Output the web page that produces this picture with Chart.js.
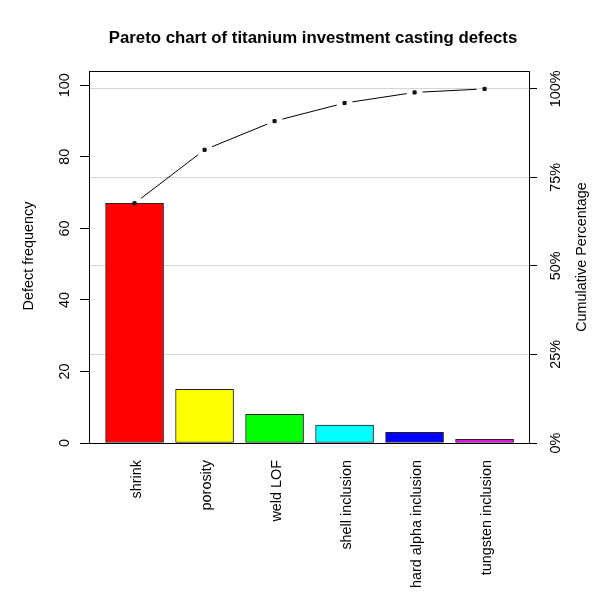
<!DOCTYPE html>
<html>
<head>
<meta charset="utf-8">
<title>Pareto chart</title>
<script src="https://cdn.jsdelivr.net/npm/chart.js@4.4.1/dist/chart.umd.min.js"></script>
<style>
  html, body { margin: 0; padding: 0; background: #fff; }
  #wrap { width: 600px; height: 609px; }
</style>
</head>
<body>
<div id="wrap"><canvas id="chart" width="600" height="609"></canvas></div>
<script>
// data
var categories = ['shrink', 'porosity', 'weld LOF', 'shell inclusion', 'hard alpha inclusion', 'tungsten inclusion'];
var frequencies = [67, 15, 8, 5, 3, 1];
var cumulativePct = [67.7, 82.8, 90.9, 96.0, 99.0, 100];
var barColors = ['#ff0000', '#ffff00', '#00ff00', '#00ffff', '#0000ff', '#ff00ff'];
var freqTicks = [0, 20, 40, 60, 80, 100];
var pctTicks = [0, 25, 50, 75, 100];
var pctTickLabels = ['0%', '25%', '50%', '75%', '100%'];

var FONT = '"Liberation Sans", Arial, Helvetica, sans-serif';
var TOTAL = 99;          // 100% on the right axis == 99 defects on the left
var FREQ_MAX = 104;

var positions = categories.map(function(c, i) { return i; });

function fixTicks(values) {
  return function(scale) {
    scale.ticks = values.map(function(v) { return { value: v }; });
  };
}

// draws texts rotated like base R, the box and the "type b" line
var rDecorations = {
  id: 'rDecorations',
  afterDatasetsDraw: function(chart) {
    var ctx = chart.ctx;
    var area = chart.chartArea;
    var yl = chart.scales.y;
    var yr = chart.scales.y2;
    var xs = chart.scales.x;

    // line between cumulative points, with gaps around the points
    var gap = 8;
    ctx.save();
    ctx.strokeStyle = '#000';
    ctx.lineWidth = 1;
    for (var i = 0; i < cumulativePct.length - 1; i++) {
      var x0 = xs.getPixelForValue(positions[i]), y0 = yr.getPixelForValue(cumulativePct[i]);
      var x1 = xs.getPixelForValue(positions[i + 1]), y1 = yr.getPixelForValue(cumulativePct[i + 1]);
      var dx = x1 - x0, dy = y1 - y0;
      var len = Math.sqrt(dx * dx + dy * dy);
      if (len <= 2 * gap) continue;
      var ux = dx / len, uy = dy / len;
      ctx.beginPath();
      ctx.moveTo(x0 + ux * gap, y0 + uy * gap);
      ctx.lineTo(x1 - ux * gap, y1 - uy * gap);
      ctx.stroke();
    }

    // box
    ctx.strokeStyle = '#000';
    ctx.strokeRect(Math.round(area.left) + 0.5, Math.round(area.top) + 0.5,
      Math.round(area.right - area.left), Math.round(area.bottom - area.top));

    // title
    ctx.fillStyle = '#000';
    ctx.font = 'bold 16.8px ' + FONT;
    ctx.textAlign = 'center';
    ctx.textBaseline = 'middle';
    ctx.fillText('Pareto chart of titanium investment casting defects', 313, 38);

    // rotated tick labels + axis titles
    ctx.font = '14.4px ' + FONT;
    function vtext(txt, x, y) {
      ctx.save();
      ctx.translate(x, y);
      ctx.rotate(-Math.PI / 2);
      ctx.textAlign = 'center';
      ctx.textBaseline = 'middle';
      ctx.fillText(txt, 0, 0);
      ctx.restore();
    }
    freqTicks.forEach(function(v) {
      vtext(String(v), 65, yl.getPixelForValue(v));
    });
    pctTicks.forEach(function(v, i) {
      vtext(pctTickLabels[i], 556, yr.getPixelForValue(v));
    });
    var mid = (area.top + area.bottom) / 2;
    vtext('Defect frequency', 29, mid - 1);
    vtext('Cumulative Percentage', 582, mid);
    ctx.restore();
  }
};

var chart = new Chart(document.getElementById('chart').getContext('2d'), {
  type: 'bar',
  data: {
    datasets: [{
      label: 'Defect frequency',
      data: positions.map(function(p, i) { return { x: p, y: frequencies[i] }; }),
      backgroundColor: barColors,
      borderColor: '#222',
      borderWidth: 1,
      borderSkipped: false,
      barThickness: 58,
      yAxisID: 'y',
      order: 2
    }, {
      type: 'line',
      label: 'Cumulative Percentage',
      data: positions.map(function(p, i) { return { x: p, y: cumulativePct[i] }; }),
      showLine: false,
      pointStyle: 'rect',
      pointRadius: 2.2,
      pointBackgroundColor: '#111',
      pointBorderColor: '#111',
      pointBorderWidth: 1,
      yAxisID: 'y2',
      order: 1
    }]
  },
  options: {
    responsive: false,
    animation: false,
    devicePixelRatio: 1,
    layout: { padding: { top: 71, left: 0, right: 0, bottom: 0 } },
    plugins: {
      legend: { display: false },
      title: { display: false },
      tooltip: { enabled: false }
    },
    scales: {
      x: {
        type: 'linear',
        offset: false,
        min: -0.651,
        max: 5.635,
        afterBuildTicks: fixTicks(positions),
        afterFit: function(scale) { scale.height = 166; },
        grid: { display: false, drawTicks: false, offset: false },
        border: { display: false },
        ticks: {
          autoSkip: false,
          minRotation: 90,
          maxRotation: 90,
          padding: 17,
          labelOffset: 2,
          color: '#000',
          font: { family: FONT, size: 14.4 },
          callback: function(v) { return categories[v]; }
        }
      },
      y: {
        position: 'left',
        min: 0,
        max: FREQ_MAX,
        afterBuildTicks: fixTicks(freqTicks),
        afterFit: function(scale) { scale.width = 89; },
        grid: { drawOnChartArea: false, tickLength: 9, tickColor: '#000', lineWidth: 1 },
        border: { display: false },
        ticks: { display: false }
      },
      y2: {
        position: 'right',
        min: 0,
        max: FREQ_MAX / TOTAL * 100,
        afterBuildTicks: fixTicks(pctTicks),
        afterFit: function(scale) { scale.width = 71; },
        grid: { drawOnChartArea: true, color: '#d6d6d6', tickLength: 8, tickColor: '#000', lineWidth: 1 },
        border: { display: false },
        ticks: { display: false }
      }
    }
  },
  plugins: [rDecorations]
});
</script>
</body>
</html>
